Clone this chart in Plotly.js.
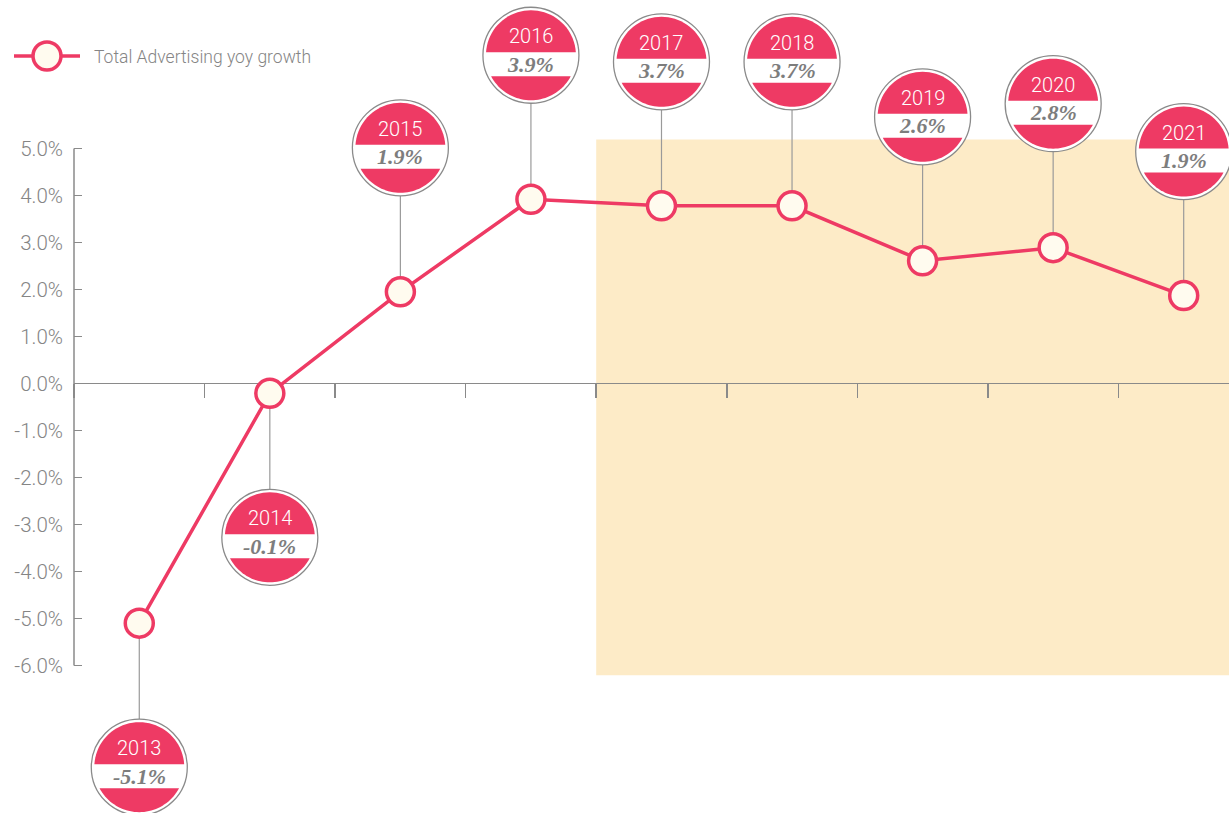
<!DOCTYPE html>
<html><head><meta charset="utf-8">
<script src="https://cdn.plot.ly/plotly-3.0.1.min.js"></script>
<style>html,body{margin:0;padding:0;background:#fff}</style>
</head><body>
<div id="chart" style="width:1229px;height:813px"></div>
<script>
// ---- data ----
const seriesName = 'Total Advertising yoy growth';
const years = [2013, 2014, 2015, 2016, 2017, 2018, 2019, 2020, 2021];
const growth = [-5.1, -0.21, 1.95, 3.92, 3.78, 3.78, 2.61, 2.89, 1.87];
const valueLabels = ['-5.1%', '-0.1%', '1.9%', '3.9%', '3.7%', '3.7%', '2.6%', '2.8%', '1.9%'];
const yTicks = [-6, -5, -4, -3, -2, -1, 0, 1, 2, 3, 4, 5];
const forecastStart = 2016.5;

// ---- style ----
const PINK = '#ee3a64', CREAM = '#fffbef', GRAY = '#8a8a8a', SHADE = '#fdebc7';
const SANS = 'Roboto, "Liberation Sans", Arial, sans-serif';
const SERIF = '"Liberation Serif", "DejaVu Serif", serif';
const yRange = [-9.14, 8.16];
const xRange = [2012.5, 2021.347];
const OFF = 144, R_OUT = 48, R_IN = 45, BAND_TOP = 3, BAND_BOT = -21;

const shapes = [];
const annotations = [];

// forecast shading
shapes.push({type: 'rect', xref: 'x', yref: 'y', x0: forecastStart, x1: 2022, y0: -6.21, y1: 5.19,
  fillcolor: SHADE, line: {width: 0}, layer: 'below'});
// y axis line
shapes.push({type: 'line', xref: 'paper', yref: 'y', x0: 0, x1: 0, y0: yTicks[0], y1: yTicks[yTicks.length - 1],
  line: {color: GRAY, width: 1.5}, layer: 'above'});

function segPath(cy, from, to) {
  const n = 40;
  let p = '';
  for (let k = 0; k <= n; k++) {
    const t = from + (to - from) * k / n;
    const px = (R_IN * Math.cos(t)).toFixed(2);
    const py = (cy + R_IN * Math.sin(t)).toFixed(2);
    p += (k === 0 ? 'M' : 'L') + px + ',' + py + ' ';
  }
  return p + 'Z';
}

years.forEach((yr, i) => {
  const v = growth[i];
  const dir = v >= 0 ? 1 : -1;
  const cy = dir * OFF;
  // connector
  shapes.push({type: 'line', xref: 'x', yref: 'y', x0: yr, x1: yr,
    ysizemode: 'pixel', yanchor: v, y0: 0, y1: cy - dir * R_OUT,
    line: {color: '#9a9a9a', width: 1.2}, layer: 'below'});
  // outer circle
  shapes.push({type: 'circle', xref: 'x', yref: 'y',
    xsizemode: 'pixel', xanchor: yr, x0: -R_OUT, x1: R_OUT,
    ysizemode: 'pixel', yanchor: v, y0: cy - R_OUT, y1: cy + R_OUT,
    fillcolor: '#ffffff', line: {color: GRAY, width: 1.3}, layer: 'above'});
  // top pink segment
  const a = Math.asin(BAND_TOP / R_IN);
  shapes.push({type: 'path', xref: 'x', yref: 'y',
    xsizemode: 'pixel', xanchor: yr, ysizemode: 'pixel', yanchor: v,
    path: segPath(cy, a, Math.PI - a), fillcolor: PINK, line: {width: 0}, layer: 'above'});
  // bottom pink segment
  const b = Math.asin(-BAND_BOT / R_IN);
  shapes.push({type: 'path', xref: 'x', yref: 'y',
    xsizemode: 'pixel', xanchor: yr, ysizemode: 'pixel', yanchor: v,
    path: segPath(cy, Math.PI + b, 2 * Math.PI - b), fillcolor: PINK, line: {width: 0}, layer: 'above'});
  // year text
  annotations.push({xref: 'x', yref: 'y', x: yr, y: v, yshift: cy + 19, showarrow: false,
    text: String(yr), font: {family: SANS, size: 20, color: '#ffffff', weight: 300}});
  // value text
  annotations.push({xref: 'x', yref: 'y', x: yr, y: v, yshift: cy - 9, showarrow: false,
    text: valueLabels[i], font: {family: SERIF, size: 22, color: '#7d7d7d', weight: 'bold', style: 'italic'}});
});

// legend (drawn manually)
const plotW = 1229 - 74;
const px2x = p => (p - 74) / plotW;
const py2y = p => 1 - p / 813;
shapes.push({type: 'line', xref: 'paper', yref: 'paper', x0: px2x(14), x1: px2x(80), y0: py2y(56), y1: py2y(56),
  line: {color: PINK, width: 3.5}, layer: 'above'});
shapes.push({type: 'circle', xref: 'paper', yref: 'paper',
  xsizemode: 'pixel', xanchor: px2x(47), x0: -14, x1: 14,
  ysizemode: 'pixel', yanchor: py2y(56), y0: -14, y1: 14,
  fillcolor: CREAM, line: {color: PINK, width: 3.5}, layer: 'above'});
annotations.push({xref: 'paper', yref: 'paper', x: px2x(92), y: py2y(57), xanchor: 'left', yanchor: 'middle',
  showarrow: false, text: seriesName, font: {family: SANS, size: 17.5, color: '#858585', weight: 300}});

const trace = {
  type: 'scatter', mode: 'lines+markers', name: seriesName,
  x: years, y: growth,
  line: {color: PINK, width: 3.5},
  marker: {size: 28, color: CREAM, line: {color: PINK, width: 3.5}},
  showlegend: false, hoverinfo: 'skip', cliponaxis: false
};

const layout = {
  width: 1229, height: 813,
  margin: {l: 74, r: 0, t: 0, b: 0, pad: 0},
  paper_bgcolor: '#ffffff', plot_bgcolor: 'rgba(0,0,0,0)',
  showlegend: false,
  xaxis: {
    range: xRange, showgrid: false, zeroline: false, showline: false,
    tickmode: 'array', tickvals: years.map(y => y - 0.5), showticklabels: false,
    ticks: 'outside', ticklen: 14, tickcolor: GRAY, tickwidth: 1.5,
    anchor: 'free', position: (0 - yRange[0]) / (yRange[1] - yRange[0]), fixedrange: true
  },
  yaxis: {
    range: yRange, showgrid: false, showline: false,
    zeroline: true, zerolinecolor: GRAY, zerolinewidth: 1.5,
    tickmode: 'array', tickvals: yTicks, ticktext: yTicks.map(t => t.toFixed(1) + '%'),
    ticks: 'inside', ticklen: 8, tickcolor: GRAY, tickwidth: 1.5,
    ticklabelstandoff: 10,
    tickfont: {family: SANS, size: 20.5, color: '#858585', weight: 300}, fixedrange: true
  },
  shapes: shapes,
  annotations: annotations
};

Plotly.newPlot('chart', [trace], layout, {displayModeBar: false, staticPlot: true});
</script>
</body></html>
